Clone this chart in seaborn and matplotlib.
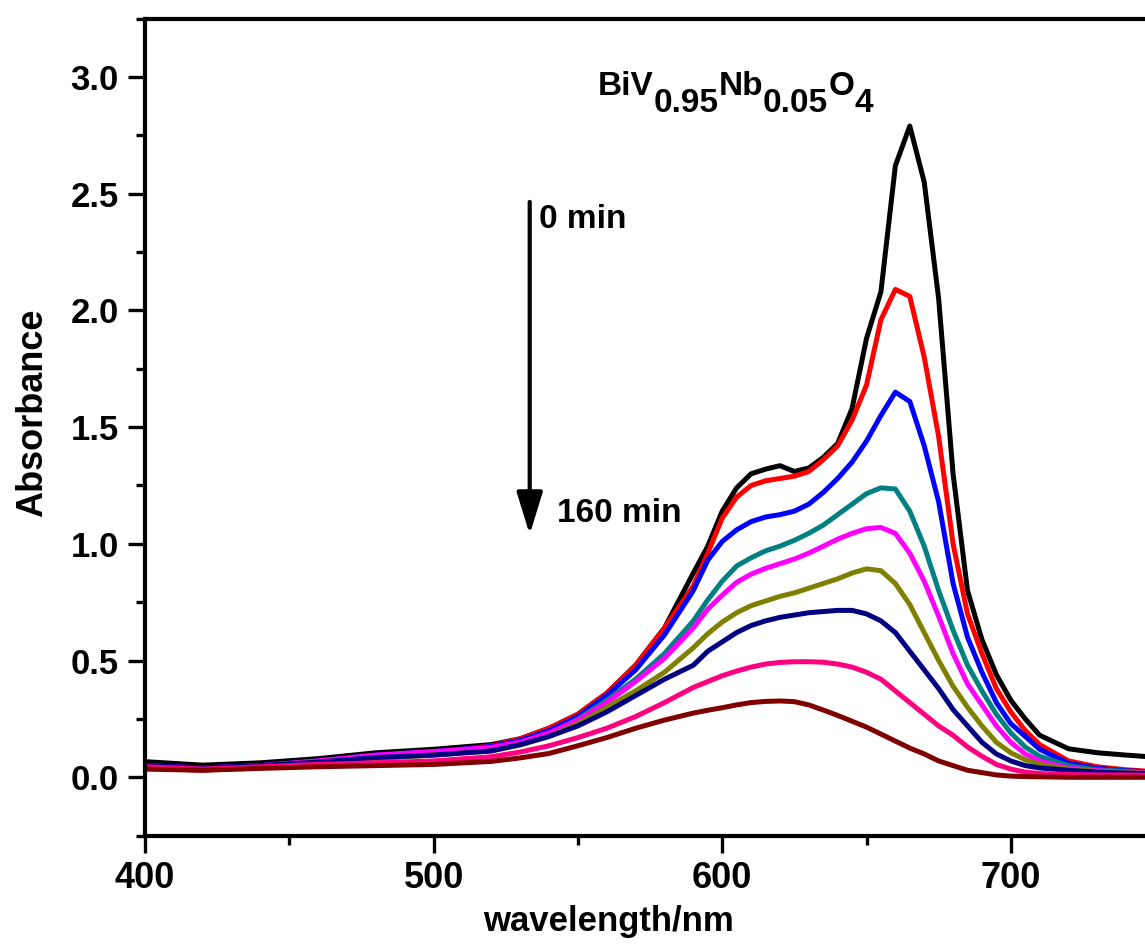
import numpy as np
import pandas as pd
import matplotlib
matplotlib.use("Agg")
import matplotlib.pyplot as plt
import seaborn as sns

# wavelength grid (nm) and absorbance for each irradiation time
wavelength = [400, 420, 440, 460, 480, 500, 520, 530, 540, 550, 560, 570, 580, 590, 595,
              600, 605, 610, 615, 620, 625, 630, 635, 640, 645, 650, 655, 660, 665, 670,
              675, 680, 685, 690, 695, 700, 705, 710, 720, 730, 740, 750]

abs_0 = [0.067, 0.052, 0.062, 0.080, 0.105, 0.120, 0.140, 0.165, 0.210, 0.27, 0.36, 0.48, 0.64, 0.875, 0.99,
         1.14, 1.24, 1.30, 1.32, 1.335, 1.31, 1.325, 1.37, 1.43, 1.58, 1.88, 2.08, 2.62, 2.79, 2.55,
         2.05, 1.30, 0.80, 0.59, 0.44, 0.33, 0.25, 0.18, 0.122, 0.105, 0.095, 0.086]
abs_20 = [0.040, 0.030, 0.045, 0.065, 0.090, 0.105, 0.135, 0.165, 0.210, 0.27, 0.36, 0.48, 0.64, 0.82, 0.96,
          1.11, 1.20, 1.25, 1.27, 1.28, 1.29, 1.31, 1.36, 1.42, 1.53, 1.68, 1.96, 2.09, 2.06, 1.80,
          1.46, 1.00, 0.70, 0.53, 0.38, 0.28, 0.20, 0.14, 0.070, 0.045, 0.032, 0.024]
abs_40 = [0.050, 0.040, 0.050, 0.070, 0.095, 0.110, 0.132, 0.158, 0.200, 0.26, 0.35, 0.46, 0.61, 0.80, 0.93,
          1.01, 1.06, 1.095, 1.115, 1.125, 1.14, 1.17, 1.22, 1.28, 1.35, 1.44, 1.55, 1.65, 1.61, 1.42,
          1.18, 0.83, 0.60, 0.45, 0.32, 0.23, 0.175, 0.12, 0.060, 0.038, 0.028, 0.022]
abs_60 = [0.045, 0.035, 0.050, 0.065, 0.090, 0.100, 0.122, 0.148, 0.185, 0.25, 0.33, 0.42, 0.53, 0.67, 0.76,
          0.84, 0.905, 0.94, 0.97, 0.99, 1.015, 1.045, 1.08, 1.125, 1.17, 1.215, 1.24, 1.235, 1.14, 0.99,
          0.80, 0.63, 0.48, 0.37, 0.27, 0.19, 0.13, 0.09, 0.050, 0.032, 0.025, 0.020]
abs_80 = [0.050, 0.040, 0.050, 0.070, 0.095, 0.110, 0.128, 0.150, 0.190, 0.245, 0.32, 0.41, 0.51, 0.64, 0.72,
          0.78, 0.835, 0.87, 0.895, 0.915, 0.935, 0.96, 0.99, 1.02, 1.045, 1.065, 1.07, 1.045, 0.96, 0.84,
          0.69, 0.53, 0.40, 0.31, 0.22, 0.15, 0.10, 0.07, 0.040, 0.028, 0.022, 0.018]
abs_100 = [0.045, 0.035, 0.048, 0.062, 0.080, 0.095, 0.113, 0.138, 0.175, 0.23, 0.30, 0.37, 0.45, 0.555, 0.615,
           0.665, 0.705, 0.735, 0.755, 0.775, 0.79, 0.81, 0.83, 0.85, 0.875, 0.893, 0.885, 0.83, 0.74, 0.62,
           0.50, 0.39, 0.30, 0.22, 0.15, 0.105, 0.075, 0.055, 0.035, 0.025, 0.020, 0.016]
abs_120 = [0.050, 0.040, 0.050, 0.065, 0.085, 0.095, 0.113, 0.140, 0.175, 0.22, 0.28, 0.35, 0.42, 0.48, 0.54,
           0.58, 0.62, 0.65, 0.67, 0.685, 0.695, 0.705, 0.71, 0.715, 0.715, 0.70, 0.67, 0.62, 0.54, 0.46,
           0.38, 0.29, 0.22, 0.15, 0.10, 0.07, 0.05, 0.04, 0.030, 0.022, 0.018, 0.015]
abs_140 = [0.045, 0.035, 0.045, 0.055, 0.062, 0.070, 0.088, 0.108, 0.135, 0.17, 0.21, 0.26, 0.32, 0.385, 0.41,
           0.435, 0.455, 0.472, 0.485, 0.492, 0.495, 0.495, 0.493, 0.485, 0.472, 0.45, 0.42, 0.37, 0.32, 0.27,
           0.22, 0.18, 0.13, 0.09, 0.055, 0.035, 0.022, 0.016, 0.012, 0.010, 0.010, 0.008]
abs_160 = [0.035, 0.030, 0.038, 0.045, 0.050, 0.055, 0.068, 0.083, 0.102, 0.135, 0.17, 0.21, 0.245, 0.275, 0.287,
           0.298, 0.31, 0.32, 0.325, 0.327, 0.324, 0.31, 0.288, 0.265, 0.24, 0.215, 0.185, 0.155, 0.125, 0.10,
           0.07, 0.05, 0.03, 0.02, 0.01, 0.005, 0.003, 0.002, 0.0, 0.0, 0.0, 0.0]

times = ["0 min", "20 min", "40 min", "60 min", "80 min", "100 min", "120 min", "140 min", "160 min"]
series = [abs_0, abs_20, abs_40, abs_60, abs_80, abs_100, abs_120, abs_140, abs_160]
colors = ["#000000", "#FF0000", "#0000FF", "#008080", "#FF00FF", "#808000", "#000080", "#FF0080", "#800000"]

df = pd.concat([pd.DataFrame({"wavelength": wavelength, "absorbance": s, "time": t})
                for t, s in zip(times, series)], ignore_index=True)

sns.set_style("ticks")
plt.rcParams["font.family"] = ["Liberation Sans", "DejaVu Sans"]
plt.rcParams["font.weight"] = "bold"
plt.rcParams["text.color"] = "black"
plt.rcParams["axes.labelcolor"] = "black"
plt.rcParams["xtick.color"] = "black"
plt.rcParams["ytick.color"] = "black"

fig = plt.figure(figsize=(11.45, 9.47), dpi=100)
ax = fig.add_axes([145 / 1145, 0.1176, 1 - 145 / 1145, 0.8627])

sns.lineplot(data=df, x="wavelength", y="absorbance", hue="time", hue_order=times,
             palette=colors, linewidth=3.6, sort=False, legend=False, ax=ax)

ax.set_xlim(400, 746.5)
ax.set_ylim(-0.25, 3.25)
ax.set_xticks([400, 500, 600, 700])
ax.set_xticks([450, 550, 650], minor=True)
ax.set_yticks([0.0, 0.5, 1.0, 1.5, 2.0, 2.5, 3.0])
ax.set_yticks(np.arange(-0.25, 3.3, 0.5), minor=True)
ax.set_yticklabels(["0.0", "0.5", "1.0", "1.5", "2.0", "2.5", "3.0"])

for side in ["left", "bottom", "top"]:
    ax.spines[side].set_linewidth(3)
    ax.spines[side].set_color("black")
ax.spines["right"].set_visible(False)

ax.tick_params(axis="both", which="major", length=12, width=2.4, color="black", direction="out")
ax.tick_params(axis="both", which="minor", length=6.5, width=2.4, color="black", direction="out")
ax.tick_params(axis="x", which="major", labelsize=26, pad=6, labelcolor="black")
ax.tick_params(axis="y", which="major", labelsize=25, pad=7, labelcolor="black")
ax.tick_params(top=False, right=False, which="both")
for lab in ax.get_xticklabels() + ax.get_yticklabels():
    lab.set_fontweight("bold")

ax.set_xlabel("wavelength/nm", fontsize=25, fontweight="bold", color="black")
ax.set_ylabel("Absorbance", fontsize=26, fontweight="bold", color="black")
ax.xaxis.set_label_coords(0.463, -0.085)
ax.yaxis.set_label_coords(-0.095, 0.518)

# arrow showing time evolution
ax.annotate("", xy=(533.3, 1.04), xytext=(533.3, 2.465),
            arrowprops=dict(arrowstyle="-|>,head_length=1.3,head_width=0.4",
                            lw=3, color="black", mutation_scale=20,
                            shrinkA=0, shrinkB=0))
ax.text(536.5, 2.353, "0 min", fontsize=24, fontweight="bold", va="baseline", ha="left", color="black")
ax.text(542.7, 1.095, "160 min", fontsize=24, fontweight="bold", va="baseline", ha="left", color="black")

# sample formula with full-size subscripts
pieces = [("BiV", 0), ("0.95", -12), ("Nb", 12), ("0.05", -12), ("O", 12), ("4", -12)]
prev = ax.text(556.9, 2.923, pieces[0][0], fontsize=24, fontweight="bold", va="baseline",
               ha="left", color="black")
for txt, dy in pieces[1:]:
    prev = ax.annotate(txt, xy=(1, 0), xycoords=prev, xytext=(0, dy), textcoords="offset points",
                       fontsize=24, fontweight="bold", va="bottom", ha="left", color="black")

fig.savefig("out.png", dpi=100)
